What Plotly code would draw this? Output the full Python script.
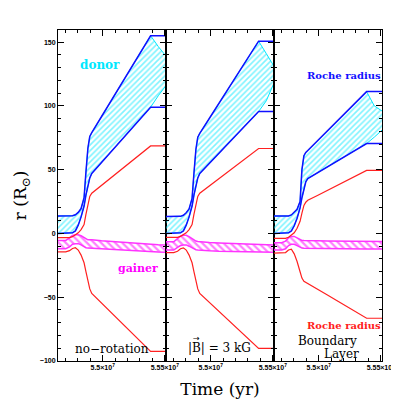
import plotly.graph_objects as go
from plotly.subplots import make_subplots

# common time grid (yr)
time = [5.4640e7, 5.4702e7, 5.4733e7, 5.4757e7, 5.4780e7, 5.4803e7, 5.4826e7,
        5.4850e7, 5.4865e7, 5.4881e7, 5.4896e7, 5.4912e7, 5.4990e7, 5.5067e7,
        5.5145e7, 5.5223e7, 5.5300e7, 5.5386e7, 5.5448e7, 5.5510e7]

# panel 1 : no-rotation
blue_hi_1 = [13.7, 13.7, 13.7, 13.9, 14.6, 16.5, 19.5, 28, 48, 67, 76, 79, 91.5, 103.9, 116.4, 128.9, 141.3, 155, 155, 155]
blue_lo_1 = [0, 0, 0, 0.5, 2, 6.5, 13, 21.5, 30, 38, 43.5, 47, 55.5, 64, 72.6, 81.1, 89.6, 99, 99, 99]
cyan_hi_1 = [13.7, 13.7, 13.7, 13.9, 14.6, 16.5, 19.5, 28, 48, 67, 76, 79, 91.5, 103.9, 116.4, 128.9, 141.3, 155, 146.5, 139]
cyan_lo_1 = [0, 0, 0, 0.5, 2, 6.5, 13, 21.5, 30, 38, 43.5, 47, 55.5, 64, 72.6, 81.1, 89.6, 99, 108, 116]
red_hi_1 = [-3.3, -3.3, -3.3, -2.5, -1, 0.5, 3, 7, 15, 23.5, 29, 31.5, 37.6, 43.7, 49.8, 55.8, 61.9, 68.6, 68.6, 68.6]
red_lo_1 = [-14.5, -14.5, -13.5, -11.8, -11.2, -13, -17, -23, -30, -38, -43.5, -47, -54.5, -62, -69.6, -77.1, -84.6, -92.4, -92.4, -92.4]
gain_hi_1 = [-5.5, -5.5, -3.5, -1.5, -1, -1, -1.8, -3.5, -4.5, -5, -5, -5, -5.7, -6.3, -7, -7.6, -8.2, -8.6, -8.8, -9]
gain_lo_1 = [-12, -12, -10.5, -8.5, -8, -8, -9, -10.5, -11.2, -11.5, -11.6, -11.6, -12.1, -12.6, -13.1, -13.6, -14.1, -14.4, -14.6, -14.7]

# panel 2 : |B| = 3 kG
blue_hi_2 = [13.2, 13.2, 13.2, 13.4, 14.2, 16.2, 19.2, 27.5, 47, 66, 75.5, 78.5, 90.3, 102, 113.8, 125.5, 137.3, 150.7, 150.7, 150.7]
blue_lo_2 = [0, 0, 0, 0.5, 2, 6.5, 13, 21.5, 30, 38, 43.5, 47, 55, 62.9, 70.9, 78.9, 86.8, 95.6, 95.6, 95.6]
cyan_hi_2 = [13.2, 13.2, 13.2, 13.4, 14.2, 16.2, 19.2, 27.5, 47, 66, 75.5, 78.5, 90.3, 102, 113.8, 125.5, 137.3, 150.7, 141, 131]
cyan_lo_2 = [0, 0, 0, 0.5, 2, 6.5, 13, 21.5, 30, 38, 43.5, 47, 55, 62.9, 70.9, 78.9, 86.8, 95.6, 104, 118]
red_hi_2 = [-3.1, -3.1, -3.1, -2.3, -1, 0.5, 3, 7, 15, 23.5, 29, 31.5, 37.3, 43, 48.8, 54.6, 60.3, 66.6, 66.6, 66.6]
red_lo_2 = [-15, -15, -14, -12, -11.3, -13, -17, -23, -30, -38, -43.5, -47, -54.1, -61.1, -68.2, -75.3, -82.3, -90.1, -90.1, -90.1]
gain_hi_2 = [-6.5, -6.5, -4, -2, -1.5, -1.5, -2.5, -4.3, -5.5, -6, -6.3, -6.5, -7, -7.4, -7.7, -8, -8.4, -8.7, -8.9, -9]
gain_lo_2 = [-13, -13, -11, -9.5, -9, -9, -10, -11.5, -12.3, -12.8, -13, -13.2, -13.6, -13.9, -14.1, -14.3, -14.5, -14.6, -14.7, -14.7]

# panel 3 : boundary layer
blue_hi_3 = [13.7, 13.7, 13.7, 13.7, 14.5, 16.5, 19, 25, 50, 61, 63.5, 65, 72.6, 80.2, 87.7, 95.3, 102.9, 111.2, 111.2, 111.2]
blue_lo_3 = [0, 0, 0, 0.5, 2, 6, 12, 20, 28, 35, 40.5, 43, 47.5, 52, 56.5, 61, 65.5, 70.5, 70.5, 70.5]
cyan_hi_3 = [13.7, 13.7, 13.7, 13.7, 14.5, 16.5, 19, 25, 50, 61, 63.5, 65, 72.6, 80.2, 87.7, 95.3, 102.9, 111.2, 100, 96]
cyan_lo_3 = [0, 0, 0, 0.5, 2, 6, 12, 20, 28, 35, 40.5, 43, 47.5, 52, 56.5, 61, 65.5, 70.5, 75.5, 81]
red_hi_3 = [-3.9, -3.9, -3.9, -3, -1.5, 0.5, 4, 9.5, 16, 22, 24.5, 26, 29.8, 33.7, 37.5, 41.4, 45.2, 49.4, 49.4, 49.4]
red_lo_3 = [-15.5, -15.5, -15, -13, -12.3, -16, -22, -30, -35, -37.5, -38.3, -39.2, -43.5, -48, -52.6, -57.2, -61.8, -66.5, -66.5, -66.5]
gain_hi_3 = [-7.3, -7.3, -6, -3.5, -2.3, -2.3, -3.5, -5, -5.5, -5.6, -5.7, -5.7, -5.8, -5.9, -6, -6.1, -6.2, -6.3, -6.4, -6.4]
gain_lo_3 = [-13, -13, -12, -9.5, -8.5, -8.5, -9.5, -11, -11.5, -11.6, -11.6, -11.7, -11.8, -11.9, -12, -12, -12.1, -12.1, -12.2, -12.2]

x_tickvals = [5.5e7, 5.55e7]
x_ticktext = ["5.5×10<sup>7</sup>", "5.55×10<sup>7</sup>"]

panels = [
    (blue_hi_1, blue_lo_1, cyan_hi_1, cyan_lo_1, red_hi_1, red_lo_1, gain_hi_1, gain_lo_1),
    (blue_hi_2, blue_lo_2, cyan_hi_2, cyan_lo_2, red_hi_2, red_lo_2, gain_hi_2, gain_lo_2),
    (blue_hi_3, blue_lo_3, cyan_hi_3, cyan_lo_3, red_hi_3, red_lo_3, gain_hi_3, gain_lo_3),
]

fig = make_subplots(rows=1, cols=3, shared_yaxes=True, horizontal_spacing=0)

for i, (bh, bl, ch, cl, rh, rl, gh, gl) in enumerate(panels):
    col = i + 1
    # donor: cyan hatched region
    fig.add_trace(go.Scatter(x=time, y=cl, mode="lines", line=dict(color="#00e8ff", width=1)), row=1, col=col)
    fig.add_trace(go.Scatter(x=time, y=ch, mode="lines", line=dict(color="#00e8ff", width=1),
                             fill="tonexty", fillcolor="rgba(0,0,0,0)",
                             fillpattern=dict(shape="/", fgcolor="#00e8ff", bgcolor="rgba(0,0,0,0)",
                                              size=4, solidity=0.4)), row=1, col=col)
    # gainer: magenta hatched band
    fig.add_trace(go.Scatter(x=time, y=gl, mode="lines", line=dict(color="#ff33ff", width=1.5)), row=1, col=col)
    fig.add_trace(go.Scatter(x=time, y=gh, mode="lines", line=dict(color="#ff33ff", width=1.5),
                             fill="tonexty", fillcolor="rgba(0,0,0,0)",
                             fillpattern=dict(shape="\\", fgcolor="#ff00ff", bgcolor="rgba(0,0,0,0)",
                                              size=5, solidity=0.45)), row=1, col=col)
    # Roche radii and stellar radii
    for ys in (bh, bl):
        fig.add_trace(go.Scatter(x=time, y=ys, mode="lines", line=dict(color="#1010ff", width=1.5)), row=1, col=col)
    for ys in (rh, rl):
        fig.add_trace(go.Scatter(x=time, y=ys, mode="lines", line=dict(color="#ff2020", width=1.2)), row=1, col=col)

tick_font = dict(family="Liberation Sans", size=7, color="black", weight="bold")

fig.update_xaxes(range=[5.464e7, 5.551e7], tickmode="array", tickvals=x_tickvals, ticktext=x_ticktext,
                 ticks="inside", ticklen=6, tickcolor="black", tickwidth=1,
                 minor=dict(tickmode="linear", tick0=5.5e7, dtick=1e5, ticks="inside", ticklen=3,
                            tickcolor="black"),
                 showline=True, linecolor="black", linewidth=1, mirror="ticks",
                 showgrid=False, zeroline=False, tickfont=tick_font)
fig.update_yaxes(range=[-100, 159.5], dtick=50, tick0=0,
                 ticks="inside", ticklen=6, tickcolor="black", tickwidth=1,
                 minor=dict(dtick=10, ticks="inside", ticklen=3, tickcolor="black"),
                 showline=True, linecolor="black", linewidth=1, mirror="ticks",
                 showgrid=False, zeroline=False, tickfont=tick_font)
fig.update_yaxes(title=dict(text="r (R<sub>⊙</sub>)", standoff=8,
                            font=dict(family="DejaVu Serif", size=17, color="black")), row=1, col=1)
fig.update_xaxes(title=dict(text="Time (yr)", standoff=12,
                            font=dict(family="DejaVu Serif", size=17, color="black")), row=1, col=2)

bold_lbl = dict(family="DejaVu Serif", weight="bold")
plain_lbl = dict(family="DejaVu Serif", size=12, color="black")
notes = [
    ("donor", "x", 5.4982e7, 132.4, dict(bold_lbl, size=12, color="#00e8ff")),
    ("gainer", "x", 5.5285e7, -27.4, dict(bold_lbl, size=11, color="#ff00ff")),
    ("Roche radius", "x3", 5.5207e7, 123.5, dict(bold_lbl, size=10, color="#1010ff")),
    ("Roche radius", "x3", 5.5207e7, -72.4, dict(bold_lbl, size=10, color="#ff2020")),
    ("no−rotation", "x", 5.5075e7, -90.3, plain_lbl),
    ("|B| = 3 kG", "x2", 5.5067e7, -89.5, plain_lbl),
    ("→", "x2", 5.4888e7, -82.0, dict(family="DejaVu Sans", size=8, color="black")),
    ("Boundary", "x3", 5.5067e7, -84.1, plain_lbl),
    ("Layer", "x3", 5.5184e7, -94.2, plain_lbl),
]
for txt, xr, xv, yv, fnt in notes:
    fig.add_annotation(text=txt, xref=xr, yref="y", x=xv, y=yv, showarrow=False, font=fnt)

fig.update_layout(width=399, height=399, showlegend=False,
                  margin=dict(l=43, r=21, t=22, b=43),
                  paper_bgcolor="white", plot_bgcolor="white")

fig.write_html("out.html")
